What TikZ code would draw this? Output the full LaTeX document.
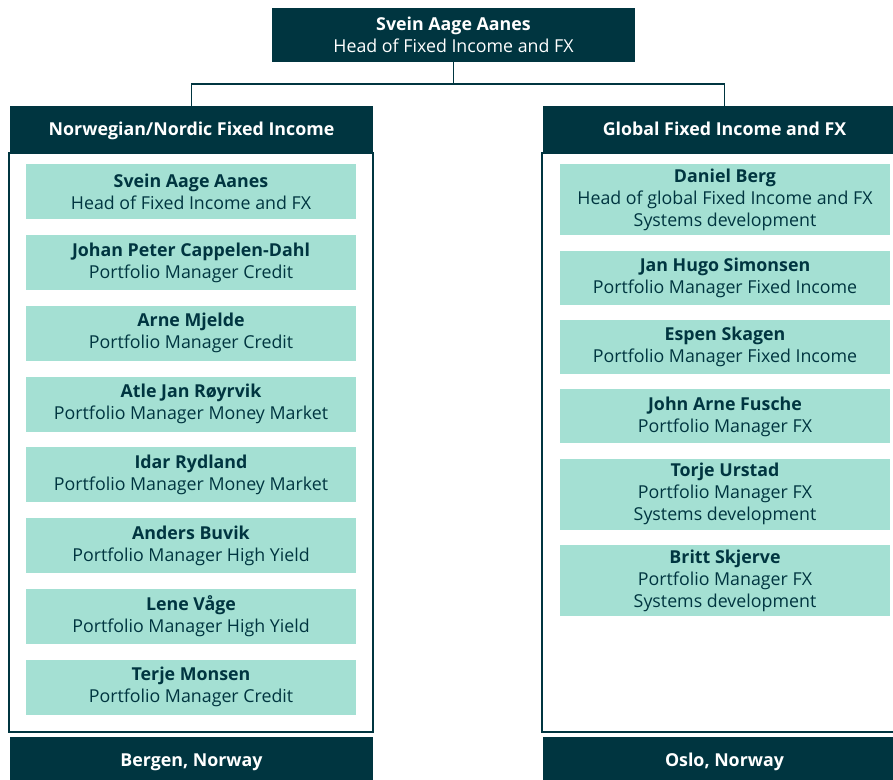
\documentclass[tikz,border=0pt]{standalone}
\usepackage{fontspec}
\setmainfont{Open Sans}
\usetikzlibrary{positioning}
\definecolor{deepteal}{HTML}{003540}
\definecolor{mint}{HTML}{A4E0D3}
\newcommand{\person}[2]{\textbf{#1}\\#2}

\begin{document}
\begin{tikzpicture}[x=1pt, y=-1pt,
		node distance=15.4pt,
		txt/.style={font=\fontsize{17.8}{22}\selectfont, align=center, inner sep=0pt},
		darkbox/.style={txt, fill=deepteal, text=white, minimum width=363pt},
		band/.style={darkbox, minimum height=46pt, text height=16pt, text depth=4pt,
			font=\fontsize{17.8}{22}\selectfont\bfseries},
		card/.style={txt, fill=mint, text=deepteal, minimum width=330pt, minimum height=55pt},
		smallcard/.style={card, minimum height=54pt},
		tallcard/.style={card, minimum height=71pt},
		frame/.style={draw=deepteal, line width=1.8pt},
		link/.style={draw=deepteal, line width=1.8pt}]
		\useasboundingbox (0, 0) rectangle (893, 779);
		
		% Head of department
		\node[darkbox, minimum height=54pt] (head) at (453.5, 35) {\person{Svein Aage Aanes}{Head of Fixed Income and FX}};
		
		% Section headers and frames
		\node[band] (nordic) at (191.5, 129) {Norwegian/Nordic Fixed Income};
		\node[band] (global) at (724.5, 129) {Global Fixed Income and FX};
		\draw[frame] (9, 153) rectangle (373, 732);
		\draw[frame] (542, 153) rectangle (906, 732);
		\node[band] (bergen) at (191.5, 760) {Bergen, Norway};
		\node[band] (oslo) at (724.5, 760) {Oslo, Norway};
		
		% Connectors
		\draw[link] (head.south) -- ++(0, 22) -| (nordic.north);
		\draw[link] (head.south) -- ++(0, 22) -| (global.north);
		
		% Bergen team
		\node[card, anchor=north] (n1) at (191, 164) {\person{Svein Aage Aanes}{Head of Fixed Income and FX}};
		\node[card, below=of n1] (n2) {\person{Johan Peter Cappelen-Dahl}{Portfolio Manager Credit}};
		\node[card, below=of n2] (n3) {\person{Arne Mjelde}{Portfolio Manager Credit}};
		\node[card, below=of n3] (n4) {\person{Atle Jan Røyrvik}{Portfolio Manager Money Market}};
		\node[card, below=of n4] (n5) {\person{Idar Rydland}{Portfolio Manager Money Market}};
		\node[card, below=of n5] (n6) {\person{Anders Buvik}{Portfolio Manager High Yield}};
		\node[card, below=of n6] (n7) {\person{Lene Våge}{Portfolio Manager High Yield}};
		\node[card, below=of n7] (n8) {\person{Terje Monsen}{Portfolio Manager Credit}};
		
		% Oslo team
		\node[tallcard, anchor=north] (g1) at (725, 164) {\person{Daniel Berg}{Head of global Fixed Income and FX\\Systems development}};
		\node[smallcard, below=15pt of g1] (g2) {\person{Jan Hugo Simonsen}{Portfolio Manager Fixed Income}};
		\node[smallcard, below=15pt of g2] (g3) {\person{Espen Skagen}{Portfolio Manager Fixed Income}};
		\node[smallcard, below=15pt of g3] (g4) {\person{John Arne Fusche}{Portfolio Manager FX}};
		\node[tallcard, below=15pt of g4] (g5) {\person{Torje Urstad}{Portfolio Manager FX\\Systems development}};
		\node[tallcard, below=15pt of g5] (g6) {\person{Britt Skjerve}{Portfolio Manager FX\\Systems development}};
	\end{tikzpicture}
\end{document}
